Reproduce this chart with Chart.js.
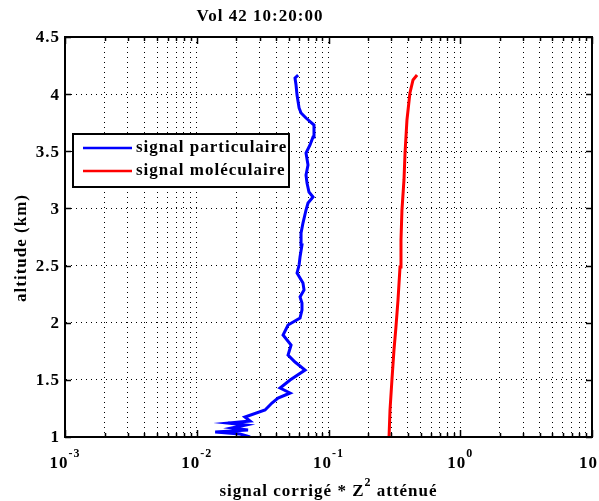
<!DOCTYPE html>
<html>
<head>
<meta charset="utf-8">
<script src="https://cdn.jsdelivr.net/npm/chart.js@4"></script>
<style>
  html, body { margin: 0; padding: 0; background: #fff; }
  canvas { display: block; }
</style>
</head>
<body>
<canvas id="chart" width="599" height="501"></canvas>
<script>
// altitudes (km) and signal for the particle channel
const altPart = [1.000, 1.026, 1.044, 1.061, 1.079, 1.105, 1.122, 1.140, 1.175, 1.236, 1.297, 1.341, 1.385, 1.429, 1.499, 1.586, 1.656, 1.717, 1.805, 1.892, 1.980, 2.041, 2.111, 2.172, 2.225, 2.286, 2.347, 2.435, 2.505, 2.575, 2.680, 2.785, 2.872, 2.986, 3.047, 3.100, 3.144, 3.222, 3.292, 3.380, 3.485, 3.555, 3.625, 3.730, 3.791, 3.835, 3.879, 3.992, 4.080, 4.141, 4.167];
const sigPart = [0.0254, 0.0213, 0.0138, 0.0245, 0.0185, 0.0236, 0.0173, 0.0254, 0.0232, 0.0330, 0.0372, 0.0414, 0.0511, 0.0429, 0.0511, 0.0664, 0.0557, 0.0493, 0.0520, 0.0452, 0.0493, 0.0608, 0.0629, 0.0629, 0.0608, 0.0652, 0.0640, 0.0577, 0.0598, 0.0608, 0.0629, 0.0619, 0.0640, 0.0675, 0.0699, 0.0763, 0.0711, 0.0687, 0.0675, 0.0699, 0.0675, 0.0724, 0.0763, 0.0776, 0.0675, 0.0619, 0.0598, 0.0577, 0.0567, 0.0557, 0.0588];

// molecular channel
const altMol = [1.000, 1.236, 1.499, 1.761, 1.962, 2.199, 2.487, 2.724, 2.986, 3.249, 3.485, 3.774, 4.010, 4.124, 4.167];
const sigMol = [0.288, 0.293, 0.303, 0.314, 0.325, 0.337, 0.349, 0.355, 0.361, 0.374, 0.381, 0.394, 0.415, 0.438, 0.470];

const seriesNames = ['signal particulaire', 'signal moléculaire'];
const yTicks = [1, 1.5, 2, 2.5, 3, 3.5, 4, 4.5];
const xExponents = [-3, -2, -1, 0, 1];

const FONT = '"Liberation Serif", "Times New Roman", serif';

// log grid: 1..9 x 10^n
const xGrid = [];
xExponents.forEach((e, i) => {
    if (i === xExponents.length - 1) { xGrid.push(Math.pow(10, e)); return; }
    for (let k = 1; k < 10; k++) xGrid.push(k * Math.pow(10, e));
});

function pts(xs, ys) {
    return xs.map((v, i) => ({ x: v, y: ys[i] }));
}

const decor = {
    id: 'decor',
    afterDraw(chart) {
        const ctx = chart.ctx;
        const a = chart.chartArea;
        const xs = chart.scales.x, ys = chart.scales.y;
        ctx.save();
        ctx.fillStyle = '#000';
        ctx.strokeStyle = '#000';

        // frame
        ctx.lineWidth = 2;
        ctx.strokeRect(a.left, a.top, a.right - a.left, a.bottom - a.top);

        // inward tick marks
        ctx.lineWidth = 1.5;
        ctx.beginPath();
        xGrid.forEach(v => {
            const px = Math.round(xs.getPixelForValue(v)) + 0.5;
            const major = Math.abs(Math.log10(v) - Math.round(Math.log10(v))) < 1e-9;
            const len = major ? 7 : 4;
            ctx.moveTo(px, a.bottom); ctx.lineTo(px, a.bottom - len);
            ctx.moveTo(px, a.top); ctx.lineTo(px, a.top + len);
        });
        yTicks.forEach(v => {
            const py = Math.round(ys.getPixelForValue(v)) + 0.5;
            ctx.moveTo(a.left, py); ctx.lineTo(a.left + 6, py);
            ctx.moveTo(a.right, py); ctx.lineTo(a.right - 6, py);
        });
        ctx.stroke();

        // y tick labels
        ctx.font = 'bold 17px ' + FONT;
        ctx.letterSpacing = '1px';
        ctx.textAlign = 'right';
        ctx.textBaseline = 'middle';
        yTicks.forEach(v => {
            ctx.fillText(String(v), a.left - 5, ys.getPixelForValue(v) + 1);
        });

        // x tick labels 10^n
        ctx.textBaseline = 'alphabetic';
        ctx.textAlign = 'left';
        xExponents.forEach(e => {
            const px = xs.getPixelForValue(Math.pow(10, e));
            ctx.font = 'bold 17px ' + FONT;
            const wBase = ctx.measureText('10').width;
            ctx.font = 'bold 12px ' + FONT;
            const ex = String(e);
            const wExp = ctx.measureText(ex).width;
            const x0 = px - (wBase + wExp) / 2;
            ctx.font = 'bold 17px ' + FONT;
            ctx.fillText('10', x0, 468);
            ctx.font = 'bold 12px ' + FONT;
            ctx.fillText(ex, x0 + wBase, 457);
        });

        // title
        ctx.font = 'bold 17px ' + FONT;
        ctx.textAlign = 'center';
        ctx.fillText('Vol 42 10:20:00', 260, 21);

        // x axis title with superscript
        const t1 = 'signal corrigé * Z', t2 = '2', t3 = ' atténué';
        ctx.textAlign = 'left';
        ctx.font = 'bold 17px ' + FONT;
        const w1 = ctx.measureText(t1).width, w3 = ctx.measureText(t3).width;
        ctx.font = 'bold 12px ' + FONT;
        const w2 = ctx.measureText(t2).width;
        let x = (a.left + a.right) / 2 - (w1 + w2 + w3) / 2;
        ctx.font = 'bold 17px ' + FONT;
        ctx.fillText(t1, x, 496);
        ctx.font = 'bold 12px ' + FONT;
        ctx.fillText(t2, x + w1, 486);
        ctx.font = 'bold 17px ' + FONT;
        ctx.fillText(t3, x + w1 + w2, 496);

        // y axis title
        ctx.save();
        ctx.translate(22, 248);
        ctx.rotate(-Math.PI / 2);
        ctx.textAlign = 'center';
        ctx.textBaseline = 'middle';
        ctx.fillText('altitude (km)', 0, 0);
        ctx.restore();

        // legend box
        ctx.fillStyle = '#fff';
        ctx.fillRect(73, 134, 216, 53);
        ctx.lineWidth = 2;
        ctx.strokeStyle = '#000';
        ctx.strokeRect(73, 134, 216, 53);
        chart.data.datasets.forEach((ds, i) => {
            const ly = 148 + i * 23;
            ctx.strokeStyle = ds.borderColor;
            ctx.lineWidth = 2.5;
            ctx.beginPath();
            ctx.moveTo(83, ly); ctx.lineTo(132, ly);
            ctx.stroke();
            ctx.fillStyle = '#000';
            ctx.font = 'bold 17px ' + FONT;
            ctx.textAlign = 'left';
            ctx.textBaseline = 'middle';
            ctx.fillText(ds.label, 136, ly);
        });
        ctx.restore();
    }
};

new Chart(document.getElementById('chart'), {
    type: 'scatter',
    data: {
        datasets: [
            { label: seriesNames[0], data: pts(sigPart, altPart), showLine: true, borderColor: '#0000ff', borderWidth: 3, pointRadius: 0, tension: 0 },
            { label: seriesNames[1], data: pts(sigMol, altMol), showLine: true, borderColor: '#ff0000', borderWidth: 3, pointRadius: 0, tension: 0 }
        ]
    },
    options: {
        responsive: false,
        animation: false,
        layout: { padding: { left: 65, right: 7, top: 37, bottom: 64 } },
        plugins: { legend: { display: false }, tooltip: { enabled: false } },
        scales: {
            x: {
                type: 'logarithmic',
                min: 1e-3, max: 10,
                afterBuildTicks: s => { s.ticks = xGrid.map(v => ({ value: v })); },
                ticks: { display: false },
                grid: { color: '#000', lineWidth: 1, drawTicks: false },
                border: { color: '#000', width: 2, dash: [1, 4] }
            },
            y: {
                min: 1, max: 4.5,
                afterBuildTicks: s => { s.ticks = yTicks.map(v => ({ value: v })); },
                ticks: { display: false },
                grid: { color: '#000', lineWidth: 1, drawTicks: false },
                border: { color: '#000', width: 2, dash: [1, 4] }
            }
        }
    },
    plugins: [decor]
});
</script>
</body>
</html>
